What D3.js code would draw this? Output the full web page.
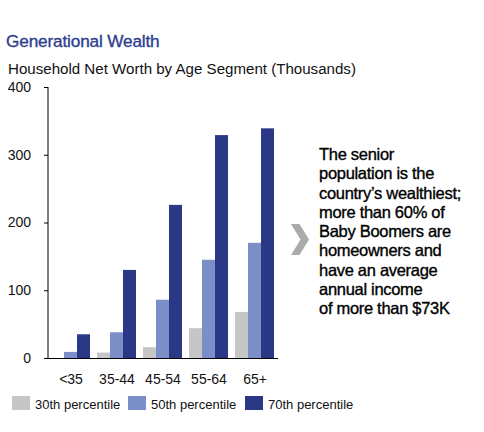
<!DOCTYPE html>
<html>
<head>
<meta charset="utf-8">
<script src="https://cdn.jsdelivr.net/npm/d3@7"></script>
<style>
  html, body { margin: 0; padding: 0; background: #fff; }
  svg { display: block; font-family: Arial, "Liberation Sans", Helvetica, sans-serif; }
</style>
</head>
<body>
<svg id="chart" width="484" height="432"></svg>
<script>
const categories = ["<35", "35-44", "45-54", "55-64", "65+"];
const seriesNames = ["30th percentile", "50th percentile", "70th percentile"];
const p30 = [0, 8, 16, 44, 68];
const p50 = [9, 38, 86, 145, 170];
const p70 = [35, 130, 226, 329, 339];
const yTicks = [0, 100, 200, 300, 400];
const colors = ["#c6c6c6", "#7a8fc7", "#2b3886"];
const title = "Generational Wealth";
const subtitle = "Household Net Worth by Age Segment (Thousands)";
const noteLines = [
  "The senior",
  "population is the",
  "country\u2019s wealthiest;",
  "more than 60% of",
  "Baby Boomers are",
  "homeowners and",
  "have an average",
  "annual income",
  "of more than $73K"
];

const series = [p30, p50, p70];
const svg = d3.select("#chart");

svg.append("text").attr("x", 6).attr("y", 47)
  .attr("font-size", 17.2).attr("fill", "#2e3d8f").attr("letter-spacing", -0.15)
  .attr("stroke", "#2e3d8f").attr("stroke-width", 0.35)
  .text(title);
svg.append("text").attr("x", 8).attr("y", 74)
  .attr("font-size", 15.1).attr("fill", "#111")
  .text(subtitle);

const x0 = d3.scaleBand().domain(categories).range([48, 278]).padding(0);
const x1 = d3.scaleBand().domain(seriesNames).range([3, 42]).padding(0);
const y = d3.scaleLinear().domain([0, 400]).range([358, 87]);

// bars
categories.forEach((c, i) => {
  series.forEach((s, j) => {
    if (s[i] <= 0) return;
    svg.append("rect")
      .attr("x", x0(c) + x1(seriesNames[j]))
      .attr("y", y(s[i]))
      .attr("width", x1.bandwidth())
      .attr("height", y(0) - y(s[i]))
      .attr("fill", colors[j]);
  });
});

// y axis
const yAxis = svg.append("g").attr("transform", "translate(48,0)")
  .call(d3.axisLeft(y).tickValues(yTicks).tickSize(4).tickPadding(13).tickFormat(d3.format("d")));
yAxis.select(".domain").attr("stroke", "#000").attr("d", `M0,${y(400)}V${y(0)}`);
yAxis.selectAll(".tick line").attr("stroke", "#000");
yAxis.selectAll(".tick text").attr("font-size", 14).attr("fill", "#111")
  .attr("font-family", "Arial, 'Liberation Sans', sans-serif");

// x axis
const xAxis = svg.append("g").attr("transform", `translate(0,${y(0)})`)
  .call(d3.axisBottom(x0).tickSize(0).tickPadding(16));
xAxis.select(".domain").attr("stroke", "#000").attr("d", "M46,0.5H278");
xAxis.selectAll(".tick text").attr("font-size", 14).attr("fill", "#111")
  .attr("font-family", "Arial, 'Liberation Sans', sans-serif");

// legend
const legendX = [12, 128, 245];
seriesNames.forEach((n, j) => {
  svg.append("rect").attr("x", legendX[j]).attr("y", 396).attr("width", 18).attr("height", 14).attr("fill", colors[j]);
  svg.append("text").attr("x", legendX[j] + 23).attr("y", 409)
    .attr("font-size", 13).attr("fill", "#111").text(n);
});

// chevron
svg.append("path")
  .attr("d", "M291,224H299.5L309,239.5L299.5,255H291L300.5,239.5Z")
  .attr("fill", "#ababab");

// note
const note = svg.append("text").attr("x", 319).attr("y", 160)
  .attr("font-size", 16.5).attr("fill", "#000").attr("letter-spacing", -0.3)
  .attr("stroke", "#000").attr("stroke-width", 0.35);
noteLines.forEach((l, k) => {
  note.append("tspan").attr("x", 319).attr("y", 160 + k * 19.25).text(l);
});
</script>
</body>
</html>
